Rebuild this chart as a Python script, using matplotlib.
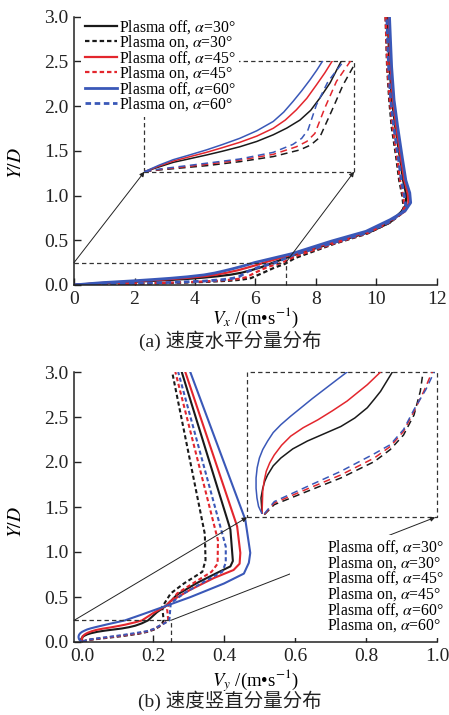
import matplotlib
matplotlib.use('Agg')
import matplotlib.pyplot as plt
from matplotlib.lines import Line2D

plt.rcParams['font.family'] = ['Liberation Serif', 'Noto Sans CJK SC']
plt.rcParams['mathtext.fontset'] = 'stix'

# ---------------- data ----------------
labels = ["Plasma off, $\\alpha$=30°", "Plasma on, $\\alpha$=30°",
          "Plasma off, $\\alpha$=45°", "Plasma on, $\\alpha$=45°",
          "Plasma off, $\\alpha$=60°", "Plasma on, $\\alpha$=60°"]
colors = ['#1a1a1a', '#1a1a1a', '#e3262d', '#e3262d', '#3a58b8', '#3a58b8']
styles = ['-', '--', '-', '--', '-', '--']

# (a) horizontal velocity Vx vs Y/D
vx_off30 = [0, 0.5, 0.96, 1.5, 2.07, 2.6, 3.18, 3.75, 4.30, 4.75, 5.19, 5.55, 5.85, 6.2, 6.58,
            7.4, 8.7, 9.8, 10.44, 10.82, 10.98, 10.97, 10.88, 10.77, 10.62, 10.51, 10.43, 10.37]
y_off30 = [0, 0.011, 0.021, 0.029, 0.0375, 0.046, 0.056, 0.068, 0.083, 0.098, 0.116, 0.138, 0.165, 0.20, 0.25,
           0.35, 0.485, 0.595, 0.697, 0.82, 0.90, 1.03, 1.17, 1.43, 1.77, 2.07, 2.44, 3.0]
vx_on30 = [0, 0.51, 2.07, 3.18, 4.30, 5.19, 5.55, 5.85, 6.24, 6.63, 6.97, 7.3, 8.6, 9.7, 10.45, 10.8,
           10.9, 10.85, 10.75, 10.65, 10.5, 10.42, 10.35, 10.3]
y_on30 = [0, 0.004, 0.0135, 0.0225, 0.034, 0.049, 0.060, 0.077, 0.135, 0.195, 0.236, 0.30, 0.46, 0.575,
          0.70, 0.79, 0.86, 1.0, 1.17, 1.43, 1.77, 2.07, 2.44, 3.0]
vx_off45 = [0, 0.5, 0.96, 1.5, 2.07, 2.6, 3.18, 3.75, 4.30, 4.7, 5.07, 5.42, 5.74, 6.02, 6.28,
            7.3, 8.6, 9.7, 10.47, 10.93, 11.06, 11.03, 10.92, 10.8, 10.65, 10.54, 10.46, 10.4]
y_off45 = [0, 0.013, 0.024, 0.0335, 0.0435, 0.054, 0.066, 0.080, 0.0976, 0.116, 0.139, 0.165, 0.195, 0.222, 0.25,
           0.35, 0.485, 0.595, 0.725, 0.82, 0.91, 1.03, 1.17, 1.43, 1.77, 2.07, 2.44, 3.0]
vx_on45 = [0, 0.51, 2.07, 3.18, 4.30, 5.07, 5.42, 5.69, 6.02, 6.41, 6.89, 7.3, 8.6, 9.7, 10.45, 10.82,
           10.93, 10.88, 10.78, 10.68, 10.53, 10.44, 10.36, 10.3]
y_on45 = [0, 0.005, 0.0165, 0.026, 0.039, 0.056, 0.068, 0.086, 0.143, 0.203, 0.25, 0.32, 0.465, 0.58,
          0.705, 0.80, 0.87, 1.0, 1.17, 1.43, 1.77, 2.07, 2.44, 3.0]
vx_off60 = [0, 0.5, 0.96, 1.5, 2.07, 2.6, 3.18, 3.75, 4.30, 4.65, 4.96, 5.25, 5.52, 5.75, 5.96,
            7.2, 8.5, 9.65, 10.45, 10.95, 11.13, 11.1, 10.97, 10.85, 10.7, 10.58, 10.5, 10.43]
y_off60 = [0, 0.015, 0.027, 0.0375, 0.049, 0.061, 0.075, 0.092, 0.113, 0.134, 0.158, 0.182, 0.206, 0.228, 0.25,
           0.35, 0.49, 0.60, 0.73, 0.83, 0.92, 1.03, 1.17, 1.43, 1.77, 2.07, 2.44, 3.0]
vx_on60 = [0, 0.51, 2.07, 3.18, 4.30, 4.96, 5.25, 5.46, 5.74, 6.13, 6.67, 7.2, 8.55, 9.68, 10.45, 10.85,
           10.97, 10.92, 10.82, 10.72, 10.57, 10.47, 10.4, 10.34]
y_on60 = [0, 0.006, 0.019, 0.0285, 0.0435, 0.0615, 0.075, 0.094, 0.150, 0.203, 0.25, 0.33, 0.47, 0.585,
          0.71, 0.81, 0.88, 1.0, 1.17, 1.43, 1.77, 2.07, 2.44, 3.0]

# (b) vertical velocity Vy vs Y/D
vy_off30 = [-0.001, -0.0025, 0.0, 0.003, 0.007, 0.015, 0.026, 0.043, 0.064, 0.088, 0.112, 0.132, 0.150, 0.160,
            0.169, 0.186, 0.211, 0.236, 0.268, 0.324, 0.380, 0.418, 0.425, 0.424, 0.418, 0.281]
yb_off30 = [0.007, 0.032, 0.048, 0.060, 0.070, 0.085, 0.098, 0.113, 0.126, 0.138, 0.150, 0.164, 0.181, 0.195,
            0.208, 0.24, 0.33, 0.40, 0.526, 0.656, 0.767, 0.84, 0.90, 0.95, 1.25, 3.0]
vy_on30 = [0.0023, 0.0165, 0.064, 0.112, 0.160, 0.183, 0.202, 0.217, 0.226, 0.230, 0.226, 0.25, 0.287,
           0.339, 0.348, 0.346, 0.254]
yb_on30 = [0.0044, 0.021, 0.043, 0.065, 0.092, 0.112, 0.136, 0.169, 0.208, 0.24, 0.39, 0.54, 0.65,
           0.78, 0.91, 1.2, 3.0]
vy_off45 = [-0.001, -0.0005, 0.0, 0.002, 0.005, 0.010, 0.0165, 0.027, 0.040, 0.058, 0.079, 0.100, 0.121,
            0.136, 0.150, 0.169, 0.20, 0.236, 0.249, 0.305, 0.371, 0.427, 0.444, 0.446, 0.437, 0.291]
yb_off45 = [0.007, 0.025, 0.043, 0.060, 0.076, 0.090, 0.103, 0.119, 0.134, 0.148, 0.161, 0.176, 0.192,
            0.206, 0.219, 0.24, 0.32, 0.40, 0.452, 0.58, 0.71, 0.80, 0.87, 0.99, 1.285, 3.0]
vy_on45 = [0.0023, 0.0165, 0.064, 0.112, 0.160, 0.183, 0.202, 0.217, 0.231, 0.243, 0.24, 0.244, 0.268,
           0.32, 0.365, 0.382, 0.383, 0.263]
yb_on45 = [0.005, 0.0237, 0.047, 0.070, 0.098, 0.117, 0.142, 0.175, 0.208, 0.24, 0.36, 0.41, 0.54,
           0.67, 0.78, 0.87, 1.13, 3.0]
vy_off60 = [-0.0015, -0.006, -0.0083, -0.0096, -0.0096, -0.008, -0.0048, 0.0, 0.007, 0.015, 0.026, 0.04,
            0.055, 0.071, 0.088, 0.105, 0.121, 0.165, 0.236, 0.306, 0.40, 0.456, 0.47, 0.474, 0.46, 0.305]
yb_off60 = [0.007, 0.018, 0.032, 0.048, 0.065, 0.082, 0.098, 0.112, 0.126, 0.140, 0.153, 0.167,
            0.181, 0.196, 0.211, 0.226, 0.24, 0.30, 0.40, 0.50, 0.65, 0.76, 0.88, 0.99, 1.36, 3.0]
vy_on60 = [0.0023, 0.0165, 0.064, 0.112, 0.160, 0.183, 0.202, 0.217, 0.234, 0.246, 0.25, 0.287, 0.353,
           0.395, 0.405, 0.405, 0.271]
yb_on60 = [0.006, 0.026, 0.051, 0.076, 0.105, 0.12, 0.145, 0.178, 0.211, 0.24, 0.43, 0.54, 0.69,
           0.78, 0.88, 1.06, 3.0]

top_series = [(vx_off30, y_off30), (vx_on30, y_on30), (vx_off45, y_off45),
              (vx_on45, y_on45), (vx_off60, y_off60), (vx_on60, y_on60)]
bot_series = [(vy_off30, yb_off30), (vy_on30, yb_on30), (vy_off45, yb_off45),
              (vy_on45, yb_on45), (vy_off60, yb_off60), (vy_on60, yb_on60)]

top_xticks = [0, 2, 4, 6, 8, 10, 12]
bot_xticks = [0.0, 0.2, 0.4, 0.6, 0.8, 1.0]
yticks = [0.0, 0.5, 1.0, 1.5, 2.0, 2.5, 3.0]

# ---------------- figure ----------------
W, H = 449, 715
fig = plt.figure(figsize=(W / 100, H / 100), dpi=100)

def px_rect(l, r, t, b):
    return [l / W, 1 - b / H, (r - l) / W, (b - t) / H]

ax1 = fig.add_axes(px_rect(74, 437, 16.7, 285))
ax2 = fig.add_axes(px_rect(74, 437, 372, 642))

BOX = dict(color='#333333', lw=0.9, dashes=(3.5, 2.5))
ARR = dict(arrowstyle='-|>', lw=0.7, color='#222222', mutation_scale=7,
           shrinkA=0, shrinkB=0)


def style_axes(ax, xlim, xticks, xfmt):
    ax.set_xlim(*xlim)
    ax.set_ylim(0, 3.0)
    ax.set_xticks(xticks)
    ax.set_xticklabels([xfmt.format(v) for v in xticks])
    ax.set_yticks(yticks)
    ax.set_yticklabels(['{:.1f}'.format(v) for v in yticks])
    for s in ['top', 'right']:
        ax.spines[s].set_visible(False)
    for s in ['left', 'bottom']:
        ax.spines[s].set_linewidth(1.1)
        ax.spines[s].set_color('#222222')
    ax.tick_params(direction='in', length=5, width=1.0, labelsize=14,
                   pad=4, colors='#222222')
    ax.set_ylabel('$Y/D$', fontsize=14)


def draw_lines(ax, series, lw_main, dash, lw_blue=None):
    handles = []
    for (xs, ys), c, st, lab in zip(series, colors, styles, labels):
        lw = lw_main if (lw_blue is None or c != '#3a58b8') else lw_blue
        ln, = ax.plot(xs, ys, color=c, lw=lw, label=lab)
        if st == '--':
            ln.set_dashes(dash)
        handles.append(ln)
    return handles


# ---- (a) ----
style_axes(ax1, (0, 12), top_xticks, '{:d}')
h1 = draw_lines(ax1, top_series, 1.6, (2.0, 1.3), lw_blue=2.0)
ax1.set_xlabel('$V_x$ /(m•s$^{-1}$)', fontsize=13.5)
ax1.xaxis.set_label_coords(0.5, -0.078)
ax1.yaxis.set_label_coords(-0.135, 0.455)

# zoom box + arrows
ax1.plot([0, 7], [0.25, 0.25], clip_on=False, **BOX)
ax1.plot([7, 7], [0, 0.25], clip_on=False, **BOX)
in1 = [2.33, 1.267, 9.26, 2.51]
ax1.plot([in1[0], in1[2], in1[2], in1[0], in1[0]],
         [in1[1], in1[1], in1[3], in1[3], in1[1]], zorder=1, **BOX)
ax1.annotate('', xy=(in1[0], in1[1]), xytext=(0, 0.25), arrowprops=ARR,
             annotation_clip=False)
ax1.annotate('', xy=(in1[2], in1[1]), xytext=(7, 0.25), arrowprops=ARR,
             annotation_clip=False)
ins1 = ax1.inset_axes([in1[0], in1[1], in1[2] - in1[0], in1[3] - in1[1]],
                      transform=ax1.transData)
draw_lines(ins1, top_series, 1.1, (4.5, 3.0))
ins1.set_xlim(0, 7)
ins1.set_ylim(0, 0.25)
ins1.axis('off')

leg1 = ax1.legend(handles=h1, labels=labels, loc='upper left',
                  bbox_to_anchor=(0.02, 1.01), fontsize=11.3, frameon=True,
                  facecolor='white', edgecolor='none', framealpha=1,
                  handlelength=2.0, handletextpad=0.15, labelspacing=-0.14,
                  borderpad=0.25, borderaxespad=0)
leg1.set_zorder(5)

# ---- (b) ----
style_axes(ax2, (-0.0225, 1.0), bot_xticks, '{:.1f}')
draw_lines(ax2, bot_series, 1.5, (2.0, 1.3))
ax2.set_xlabel('$V_y$ /(m•s$^{-1}$)', fontsize=13.5)
ax2.xaxis.set_label_coords(0.5, -0.092)
ax2.yaxis.set_label_coords(-0.135, 0.444)

ax2.plot([-0.0225, 0.25], [0.24, 0.24], clip_on=False, **BOX)
ax2.plot([0.25, 0.25], [0, 0.24], clip_on=False, **BOX)
in2 = [0.465, 1.385, 1.0, 3.0]
ax2.plot([in2[0], in2[2], in2[2], in2[0], in2[0]],
         [in2[1], in2[1], in2[3], in2[3], in2[1]], clip_on=False, zorder=1, **BOX)
ax2.annotate('', xy=(in2[0], in2[1]), xytext=(-0.0225, 0.24), arrowprops=ARR,
             annotation_clip=False)
ax2.annotate('', xy=(in2[2] - 0.005, in2[1]), xytext=(0.25, 0.24), arrowprops=ARR,
             annotation_clip=False)
ins2 = ax2.inset_axes([in2[0], in2[1], in2[2] - in2[0], in2[3] - in2[1]],
                      transform=ax2.transData)
draw_lines(ins2, bot_series, 1.1, (4.5, 3.0))
ins2.set_xlim(-0.0225, 0.25)
ins2.set_ylim(0, 0.24)
ins2.axis('off')

blank = [Line2D([], [], color='none') for _ in labels]
leg2 = ax2.legend(handles=blank, labels=labels, loc='lower right',
                  bbox_to_anchor=(1.03, 0.015), fontsize=11.3, frameon=True,
                  facecolor='white', edgecolor='none', framealpha=1,
                  handlelength=2.0, handletextpad=0.15, labelspacing=-0.14,
                  borderpad=0.25, borderaxespad=0)
leg2.set_zorder(5)

# captions
fig.text(230 / W, 1 - 341 / H, '(a) 速度水平分量分布', ha='center', va='center',
         fontsize=14, color='#222222')
fig.text(230 / W, 1 - 701 / H, '(b) 速度竖直分量分布', ha='center', va='center',
         fontsize=14, color='#222222')

fig.savefig('out.png', dpi=100)
